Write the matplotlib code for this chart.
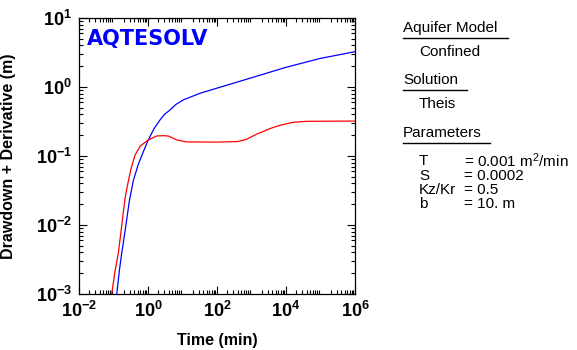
import matplotlib
matplotlib.use("Agg")
import matplotlib.pyplot as plt
from matplotlib.lines import Line2D
from matplotlib.ticker import LogLocator, FixedLocator, FixedFormatter, NullFormatter

plt.rcParams.update({
    "font.family": ["Liberation Sans", "DejaVu Sans"],
    "mathtext.fontset": "custom",
    "mathtext.rm": "Liberation Sans",
    "mathtext.bf": "Liberation Sans:bold",
    "mathtext.it": "Liberation Sans:italic",
})

# drawdown curve (min, m)
t_draw = [0.105, 0.124, 0.15, 0.173, 0.2, 0.226, 0.287, 0.375, 0.52, 0.73,
          1.02, 1.5, 2.23, 3.0, 4.35, 6.5, 10.5, 32, 120, 1100, 1e4, 1e5, 1e6]
s_draw = [0.0006, 0.001, 0.0023, 0.0039, 0.0063, 0.0095, 0.022, 0.044, 0.075,
          0.115, 0.171, 0.25, 0.333, 0.4, 0.465, 0.56, 0.65, 0.81, 0.99, 1.38,
          1.93, 2.6, 3.25]

# derivative curve (min, m)
t_der = [0.08, 0.0885, 0.11, 0.138, 0.174, 0.215, 0.25, 0.316, 0.42, 0.6,
         1.02, 1.78, 2.8, 3.9, 6.8, 13, 100, 400, 720, 1500, 3470, 6700, 1.6e4,
         4e4, 1e6]
s_der = [0.0006, 0.001, 0.0021, 0.0039, 0.01, 0.024, 0.036, 0.063, 0.103, 0.14,
         0.171, 0.195, 0.197, 0.195, 0.171, 0.16, 0.159, 0.162, 0.175, 0.21,
         0.25, 0.279, 0.308, 0.318, 0.321]

x_decades = [-2, 0, 2, 4, 6]
y_decades = [-3, -2, -1, 0, 1]

W, H = 577, 350
fig = plt.figure(figsize=(W / 100, H / 100), dpi=100)
ax = fig.add_axes([79 / W, 1 - 294 / H, 276 / W, 276 / H])

ax.plot(t_draw, s_draw, color="#0000ff", lw=0.9)
ax.plot(t_der, s_der, color="#ff0000", lw=0.9)

ax.set_xscale("log")
ax.set_yscale("log")
ax.set_xlim(1e-2, 1e6)
ax.set_ylim(1e-3, 1e1)

ax.xaxis.set_major_locator(FixedLocator([10.0 ** d for d in x_decades]))
ax.xaxis.set_major_formatter(FixedFormatter([r"$\mathbf{10^{%d}}$" % d for d in x_decades]))
ax.yaxis.set_major_locator(FixedLocator([10.0 ** d for d in y_decades]))
ax.yaxis.set_major_formatter(FixedFormatter([r"$\mathbf{10^{%d}}$" % d for d in y_decades]))
for axis in (ax.xaxis, ax.yaxis):
    axis.set_minor_locator(LogLocator(base=10, subs=range(2, 10), numticks=50))
    axis.set_minor_formatter(NullFormatter())

ax.tick_params(which="both", direction="in", top=True, right=True, width=0.8)
ax.tick_params(which="major", length=6, labelsize=13)
ax.tick_params(which="minor", length=3)
ax.tick_params(axis="x", pad=5)
ax.tick_params(axis="y", pad=5)
for sp in ax.spines.values():
    sp.set_linewidth(0.9)

ax.set_xlabel("Time (min)", fontsize=11.5, fontweight="bold")
ax.set_ylabel("Drawdown + Derivative (m)", fontsize=11.5, fontweight="bold")
ax.xaxis.set_label_coords(0.5, -0.143)
ax.yaxis.set_label_coords(-0.228, 0.5)

ax.text(0.03, 0.925, "AQTESOLV", transform=ax.transAxes, color="#0000ff",
        fontsize=15, fontweight="heavy", family="DejaVu Sans", va="center")

# side panel
FS = 11

def px(x, y):
    return x / W, 1 - y / H

def heading(text, y, x1):
    fig.text(*px(403, y), text, fontsize=FS, va="center", ha="left")
    fig.add_artist(Line2D([403 / W, x1 / W], [1 - (y + 10) / H] * 2,
                          color="black", lw=1.0))

heading("Aquifer Model", 28, 508)
fig.text(*px(419, 52), "Confined", fontsize=FS, va="center")
heading("Solution", 80, 467)
fig.text(*px(419, 104), "Theis", fontsize=FS, va="center")
heading("Parameters", 133, 490)

param_names = ["T", "S", "Kz/Kr", "b"]
param_values = [r"= 0.001 m$^{2}$/min", "= 0.0002", "= 0.5", "= 10. m"]
for i, (name, val) in enumerate(zip(param_names, param_values)):
    y = 161 + i * 14.5
    fig.text(*px(419, y), name, fontsize=FS, va="center")
    fig.text(*px(464, y), val, fontsize=FS, va="center")

fig.savefig("out.png", dpi=100)
